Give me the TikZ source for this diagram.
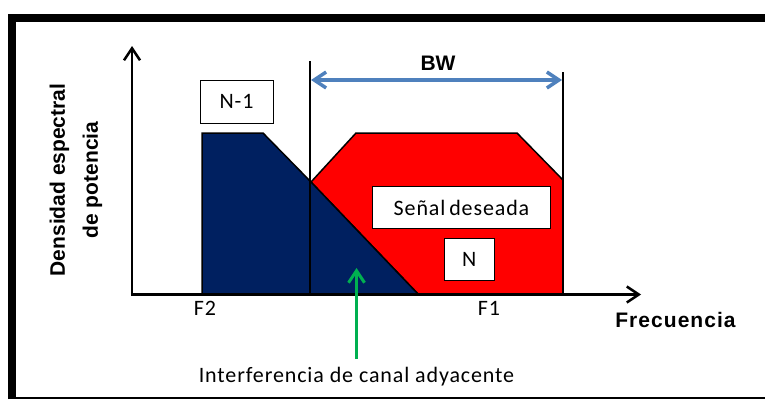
\documentclass[tikz,border=0pt]{standalone}
\usepackage{fontspec}
\setmainfont{Carlito}
\newfontfamily\arialfont{Liberation Sans}
\usetikzlibrary{arrows.meta,positioning}
\definecolor{azuloscuro}{HTML}{002060}
\definecolor{azulbw}{HTML}{4F81BD}
\definecolor{verde}{HTML}{00B050}

\begin{document}
\begin{tikzpicture}[x=1pt,y=-1pt,>={Straight Barb[length=12pt,width=16pt]},
  caja/.style={draw,fill=white,line width=1pt,inner sep=0pt,font=\fontsize{22}{26}\selectfont\addfontfeature{LetterSpace=4}},
  etiq/.style={inner sep=0pt,font=\fontsize{22}{26}\selectfont\addfontfeature{LetterSpace=4}},
  etiqb/.style={inner sep=0pt,font=\arialfont\bfseries\fontsize{21}{25}\selectfont}]
\useasboundingbox (0,0) rectangle (765,399);
%marco
\draw[line width=8pt] (12,399) -- (12,18) -- (770,18);
\draw[line width=2pt] (12,397.5) -- (770,397.5);
%espectros
\filldraw[fill=red,draw=black,line width=1.5pt] (311,182) -- (356,133) -- (517,133) -- (563,180) -- (563,294) -- (418,294) -- cycle;
\filldraw[fill=azuloscuro,draw=black,line width=1.5pt] (202,294) -- (202,133) -- (263,133) -- (311,182) -- (418,294) -- cycle;
\draw[line width=2.5pt] (310,61) -- (310,294);
\draw[line width=2.5pt] (563,72) -- (563,294);
%ejes
\draw[->,line width=2.5pt] (132,294.5) -- (132,46);
\draw[->,line width=2.5pt] (130.75,294.5) -- (641,294.5);
%BW
\draw[<->,azulbw,line width=3.5pt] (311,80) -- (562,80);
\node[etiqb] (bw) at (438,63.5) {BW};
%cajas
\node[caja,minimum width=73pt,minimum height=43pt] (n1) at (236.5,101.5) {N-1};
\node[caja,minimum width=178pt,minimum height=42pt] (senal) at (461.5,207.5) {Señal\hspace{-2pt} deseada};
\node[caja,minimum width=50pt,minimum height=42pt] (n) at (469.3,259) {N};
%textos
\node[etiq] (f2) at (205,308) {F2};
\node[etiq] (f1) at (489,308) {F1};
\node[etiqb] (frec) at (675.5,320) {\addfontfeature{LetterSpace=5}Frecuencia};
\node[etiqb,rotate=90,align=center] (densidad) at (76,180) {Densidad espectral\\[8pt]de potencia};
\node[etiq,anchor=base] (interf) at (356.5,382.7) {Interferencia de canal adyacente};
\coordinate (punta) at (356.5,268);
\draw[->,verde,line width=3pt] ([yshift=8pt]interf.north) -- (punta);
\end{tikzpicture}
\end{document}
